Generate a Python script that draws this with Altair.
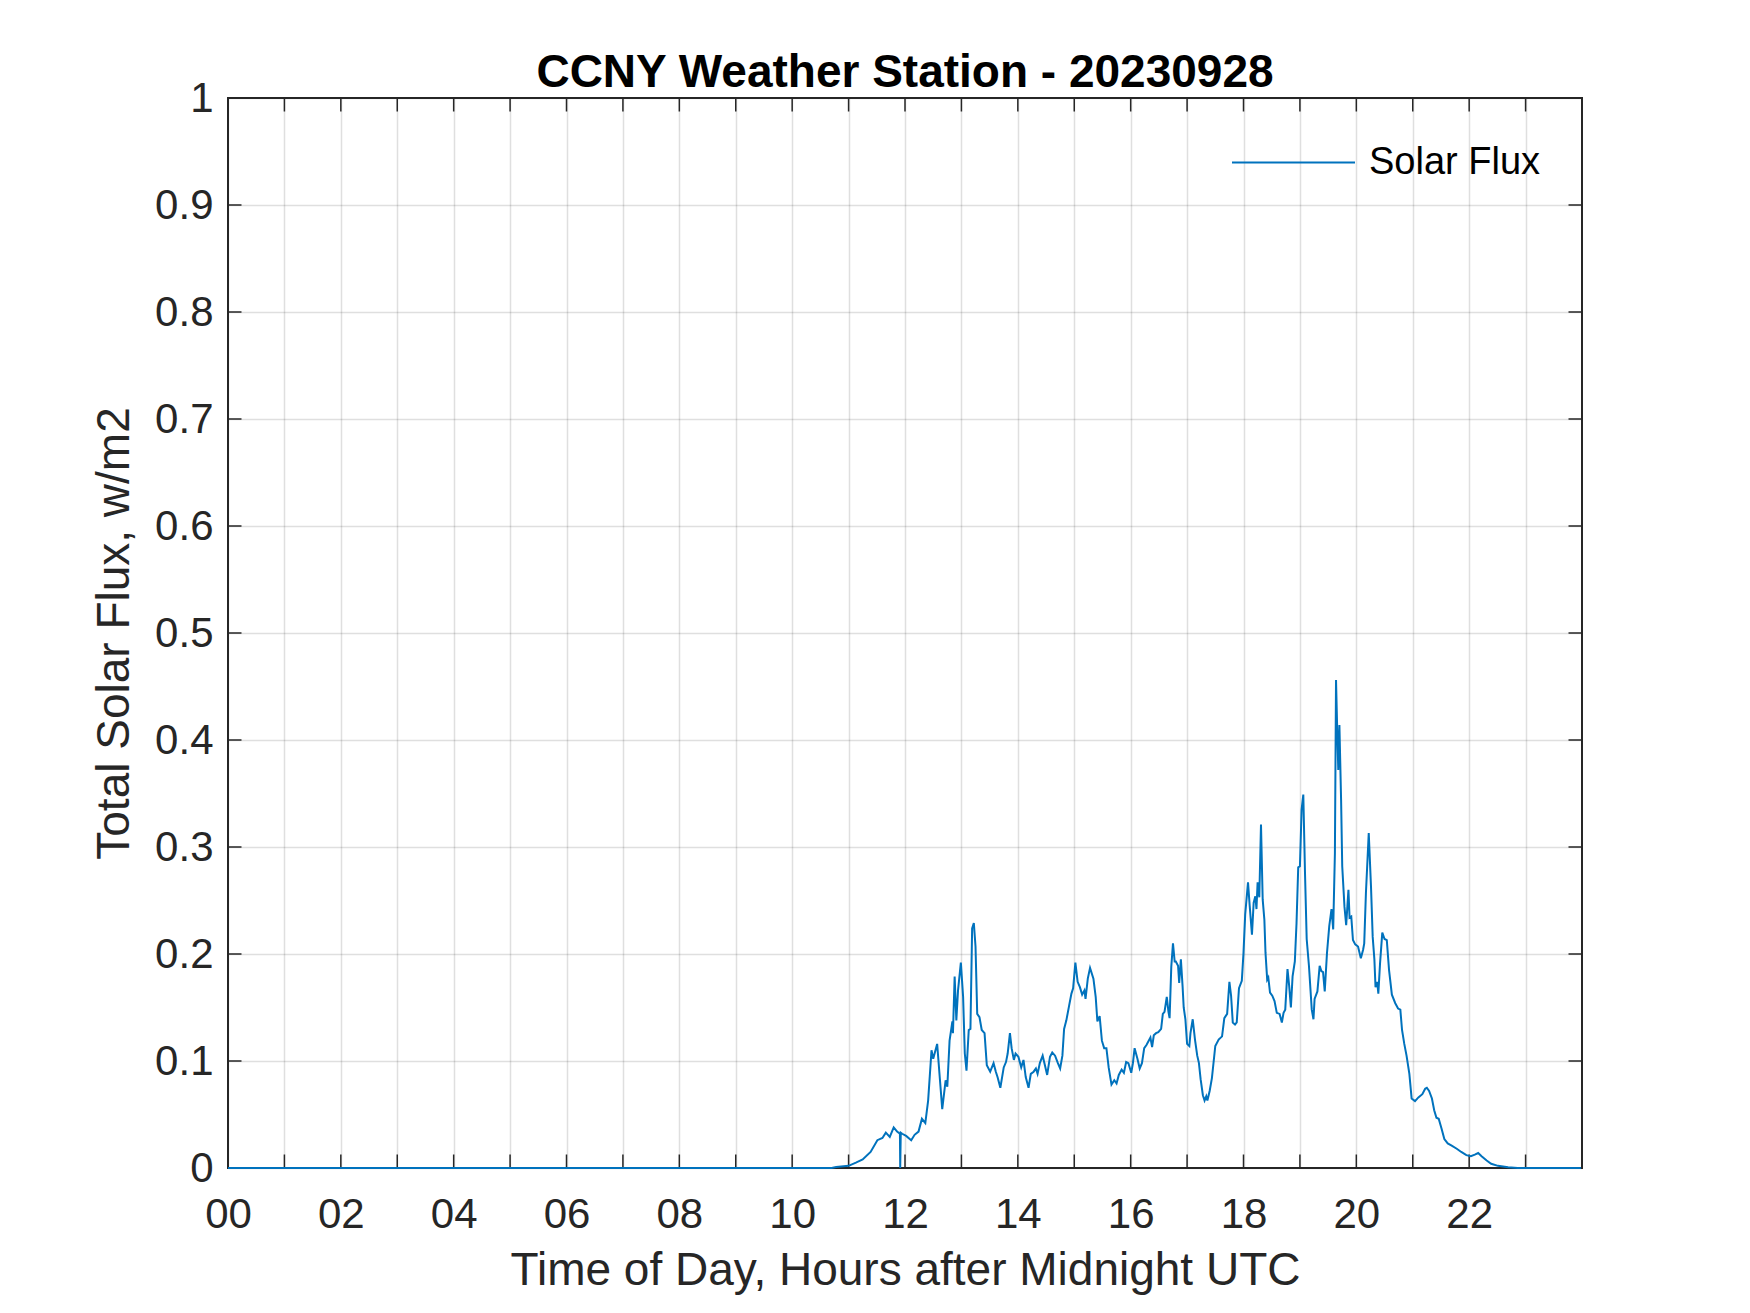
import altair as alt
import pandas as pd

# ---- data -------------------------------------------------------------
hours = [0.0, 10.70, 10.78, 11.00, 11.13, 11.25, 11.39, 11.51, 11.60, 11.66, 11.73, 11.80, 11.86,
         11.91, 11.915, 11.925, 11.95, 12.02, 12.11, 12.17, 12.24, 12.30, 12.36, 12.41, 12.47,
         12.50, 12.57, 12.62, 12.66, 12.72, 12.75, 12.79, 12.84, 12.85, 12.88, 12.91, 12.94,
         12.99, 13.03, 13.06, 13.09, 13.13, 13.16, 13.19, 13.22, 13.25, 13.28, 13.32, 13.36,
         13.41, 13.45, 13.51, 13.57, 13.61, 13.64, 13.69, 13.75, 13.79, 13.82, 13.86, 13.89,
         13.93, 13.96, 14.01, 14.06, 14.10, 14.14, 14.19, 14.23, 14.28, 14.32, 14.35, 14.39,
         14.44, 14.48, 14.52, 14.57, 14.61, 14.66, 14.71, 14.75, 14.79, 14.82, 14.86, 14.91,
         14.95, 14.98, 15.02, 15.06, 15.10, 15.14, 15.18, 15.20, 15.24, 15.28, 15.34, 15.38,
         15.41, 15.45, 15.49, 15.53, 15.57, 15.61, 15.66, 15.71, 15.75, 15.79, 15.84, 15.88,
         15.92, 15.96, 16.01, 16.04, 16.07, 16.12, 16.16, 16.20, 16.24, 16.28, 16.32, 16.35,
         16.38, 16.41, 16.45, 16.49, 16.54, 16.57, 16.60, 16.64, 16.67, 16.69, 16.72, 16.75,
         16.78, 16.80, 16.84, 16.86, 16.89, 16.92, 16.94, 16.97, 17.00, 17.04, 17.06, 17.10,
         17.14, 17.18, 17.21, 17.24, 17.28, 17.31, 17.34, 17.36, 17.40, 17.44, 17.50, 17.56,
         17.62, 17.66, 17.71, 17.75, 17.78, 17.81, 17.85, 17.88, 17.92, 17.97, 18.00, 18.03,
         18.08, 18.11, 18.15, 18.18, 18.21, 18.23, 18.25, 18.28, 18.31, 18.34, 18.37, 18.39,
         18.42, 18.44, 18.47, 18.51, 18.55, 18.59, 18.64, 18.68, 18.71, 18.74, 18.78, 18.81,
         18.84, 18.87, 18.91, 18.94, 18.97, 19.00, 19.03, 19.06, 19.09, 19.12, 19.16, 19.21,
         19.24, 19.26, 19.31, 19.35, 19.38, 19.41, 19.44, 19.48, 19.52, 19.56, 19.59, 19.62,
         19.64, 19.66, 19.68, 19.70, 19.73, 19.75, 19.79, 19.82, 19.86, 19.88, 19.91, 19.94,
         19.98, 20.03, 20.08, 20.12, 20.14, 20.17, 20.22, 20.26, 20.29, 20.32, 20.34, 20.37,
         20.39, 20.42, 20.46, 20.50, 20.54, 20.58, 20.63, 20.69, 20.74, 20.78, 20.81, 20.85,
         20.89, 20.94, 20.98, 21.04, 21.10, 21.17, 21.22, 21.25, 21.29, 21.34, 21.38, 21.42,
         21.46, 21.51, 21.56, 21.62, 21.69, 21.78, 21.86, 21.95, 22.03, 22.10, 22.16, 22.22,
         22.31, 22.39, 22.51, 22.69, 22.86, 23.98]

flux = [0.0, 0.0, 0.001, 0.002, 0.005, 0.008, 0.015, 0.026, 0.028, 0.033, 0.029, 0.038, 0.034,
        0.032, 0.0, 0.033, 0.032, 0.030, 0.026, 0.031, 0.034, 0.046, 0.042, 0.063, 0.110,
        0.102, 0.116, 0.082, 0.055, 0.082, 0.076, 0.119, 0.137, 0.126, 0.179, 0.138, 0.166,
        0.192, 0.160, 0.107, 0.091, 0.129, 0.130, 0.224, 0.229, 0.207, 0.144, 0.141, 0.129,
        0.126, 0.096, 0.090, 0.098, 0.090, 0.085, 0.075, 0.094, 0.099, 0.107, 0.126, 0.112,
        0.101, 0.107, 0.104, 0.094, 0.101, 0.085, 0.075, 0.088, 0.090, 0.093, 0.088, 0.098,
        0.105, 0.096, 0.087, 0.104, 0.108, 0.105, 0.098, 0.093, 0.105, 0.130, 0.138, 0.152,
        0.163, 0.168, 0.192, 0.174, 0.169, 0.162, 0.166, 0.158, 0.177, 0.187, 0.177, 0.160,
        0.137, 0.142, 0.119, 0.112, 0.112, 0.094, 0.078, 0.082, 0.079, 0.087, 0.092, 0.089,
        0.099, 0.098, 0.089, 0.098, 0.112, 0.102, 0.093, 0.098, 0.112, 0.115, 0.119, 0.122,
        0.113, 0.124, 0.126, 0.127, 0.130, 0.144, 0.146, 0.160, 0.146, 0.140, 0.188, 0.210,
        0.193, 0.193, 0.189, 0.173, 0.195, 0.170, 0.150, 0.139, 0.116, 0.114, 0.126, 0.139,
        0.120, 0.105, 0.098, 0.083, 0.068, 0.063, 0.067, 0.063, 0.072, 0.084, 0.114, 0.120,
        0.123, 0.140, 0.144, 0.174, 0.161, 0.136, 0.134, 0.136, 0.168, 0.175, 0.201, 0.237,
        0.267, 0.245, 0.218, 0.248, 0.254, 0.242, 0.267, 0.253, 0.321, 0.251, 0.232, 0.201,
        0.176, 0.178, 0.164, 0.161, 0.156, 0.145, 0.144, 0.136, 0.145, 0.148, 0.186, 0.170,
        0.150, 0.179, 0.193, 0.229, 0.281, 0.282, 0.335, 0.349, 0.276, 0.214, 0.189, 0.148,
        0.139, 0.158, 0.165, 0.189, 0.184, 0.183, 0.165, 0.201, 0.226, 0.242, 0.223, 0.294,
        0.456, 0.412, 0.372, 0.414, 0.344, 0.282, 0.244, 0.227, 0.260, 0.234, 0.235, 0.213,
        0.209, 0.207, 0.196, 0.204, 0.210, 0.257, 0.313, 0.263, 0.216, 0.195, 0.169, 0.174,
        0.163, 0.191, 0.220, 0.214, 0.213, 0.185, 0.162, 0.154, 0.149, 0.148, 0.129, 0.116,
        0.105, 0.088, 0.065, 0.0625, 0.066, 0.069, 0.074, 0.075, 0.072, 0.065, 0.054, 0.047,
        0.046, 0.037, 0.027, 0.023, 0.021, 0.018, 0.015, 0.012, 0.011, 0.0125, 0.014, 0.011,
        0.007, 0.004, 0.002, 0.0006, 0.0, 0.0]

series_name = "Solar Flux"
axis_hours = [0, 1, 2, 3, 4, 5, 6, 7, 8, 9, 10, 11, 12, 13, 14, 15, 16, 17, 18, 19, 20, 21, 22, 23]
inner_tick_hours = [1, 2, 3, 4, 5, 6, 7, 8, 9, 10, 11, 12, 13, 14, 15, 16, 17, 18, 19, 20, 21, 22, 23]
axis_flux = [0, 0.1, 0.2, 0.3, 0.4, 0.5, 0.6, 0.7, 0.8, 0.9, 1]
inner_tick_flux = [0.1, 0.2, 0.3, 0.4, 0.5, 0.6, 0.7, 0.8, 0.9]

title_text = "CCNY Weather Station - 20230928"
x_title = "Time of Day, Hours after Midnight UTC"
y_title = "Total Solar Flux, w/m2"

# ---- layout / style -----------------------------------------------------
W, H = 1354, 1070
TICK = 13.5
FONT = "Liberation Sans"
AX_COLOR = "#262626"
LINE_COLOR = "#0072BD"

df = pd.DataFrame({"hour": hours, "flux": flux, "series": series_name})
df_xt = pd.DataFrame({"hour": inner_tick_hours})
df_yt = pd.DataFrame({"flux": inner_tick_flux})

x_scale = alt.Scale(domain=[0, 24], nice=False, zero=False)
y_scale = alt.Scale(domain=[0, 1], nice=False)

x_axis = alt.Axis(
    values=axis_hours,
    labelExpr="datum.value % 2 == 0 ? (datum.value < 10 ? '0' + datum.value : '' + datum.value) : ''",
    title=x_title,
    grid=True, ticks=False, domain=False,
    labelFlush=False, labelOverlap=False, labelBound=False,
    labelPadding=26, labelFontSize=42, labelColor=AX_COLOR, labelFont=FONT,
    titleFontSize=46, titleFont=FONT, titleColor=AX_COLOR, titleFontWeight="normal",
    titleBaseline="alphabetic", titleY=116, titleAnchor="middle",
    gridColor=AX_COLOR, gridOpacity=0.15, gridWidth=1.5,
)
y_axis = alt.Axis(
    values=axis_flux,
    format=".1~f",
    title=y_title,
    grid=True, ticks=False, domain=False,
    labelFlush=False, labelOverlap=False, labelBound=False,
    labelPadding=15, labelFontSize=42, labelColor=AX_COLOR, labelFont=FONT,
    labelBaseline="middle",
    titleFontSize=46, titleFont=FONT, titleColor=AX_COLOR, titleFontWeight="normal",
    titleBaseline="alphabetic", titleX=-100, titleY=H / 2, titleAngle=270, titleAlign="center",
    gridColor=AX_COLOR, gridOpacity=0.15, gridWidth=1.5,
)

line = alt.Chart(df).mark_line(strokeWidth=2).encode(
    x=alt.X("hour:Q", scale=x_scale, axis=x_axis),
    y=alt.Y("flux:Q", scale=y_scale, axis=y_axis),
    color=alt.Color(
        "series:N",
        scale=alt.Scale(domain=[series_name], range=[LINE_COLOR]),
        legend=alt.Legend(
            title=None, orient="none", legendX=1003, legendY=2, padding=0,
            symbolType="stroke", symbolSize=15129, symbolStrokeWidth=2,
            labelFontSize=38, labelFont=FONT, labelColor="black", labelOffset=13,
            labelLimit=0,
        ),
    ),
)

tick_style = dict(color=AX_COLOR, strokeWidth=1.5)

ticks_bottom = alt.Chart(df_xt).mark_rule(**tick_style).encode(
    x=alt.X("hour:Q", scale=x_scale, axis=x_axis),
    y=alt.value(H), y2=alt.value(H - TICK),
)
ticks_top = alt.Chart(df_xt).mark_rule(**tick_style).encode(
    x=alt.X("hour:Q", scale=x_scale, axis=x_axis),
    y=alt.value(0), y2=alt.value(TICK),
)
ticks_left = alt.Chart(df_yt).mark_rule(**tick_style).encode(
    y=alt.Y("flux:Q", scale=y_scale, axis=y_axis),
    x=alt.value(0), x2=alt.value(TICK),
)
ticks_right = alt.Chart(df_yt).mark_rule(**tick_style).encode(
    y=alt.Y("flux:Q", scale=y_scale, axis=y_axis),
    x=alt.value(W - TICK), x2=alt.value(W),
)

chart = alt.layer(ticks_bottom, ticks_top, ticks_left, ticks_right, line).properties(
    width=W,
    height=H,
    title=alt.TitleParams(
        text=title_text, fontSize=46, fontWeight="bold", color="black", font=FONT,
        anchor="middle", frame="group", baseline="alphabetic", offset=-56,
    ),
    autosize=alt.AutoSizeParams(type="none"),
    padding={"left": 220, "top": 90, "right": 150, "bottom": 130},
).configure(
    background="white", font=FONT
).configure_view(
    stroke=AX_COLOR, strokeWidth=2
)

chart.save("out.html", embed_options={"renderer": "svg", "actions": False})
